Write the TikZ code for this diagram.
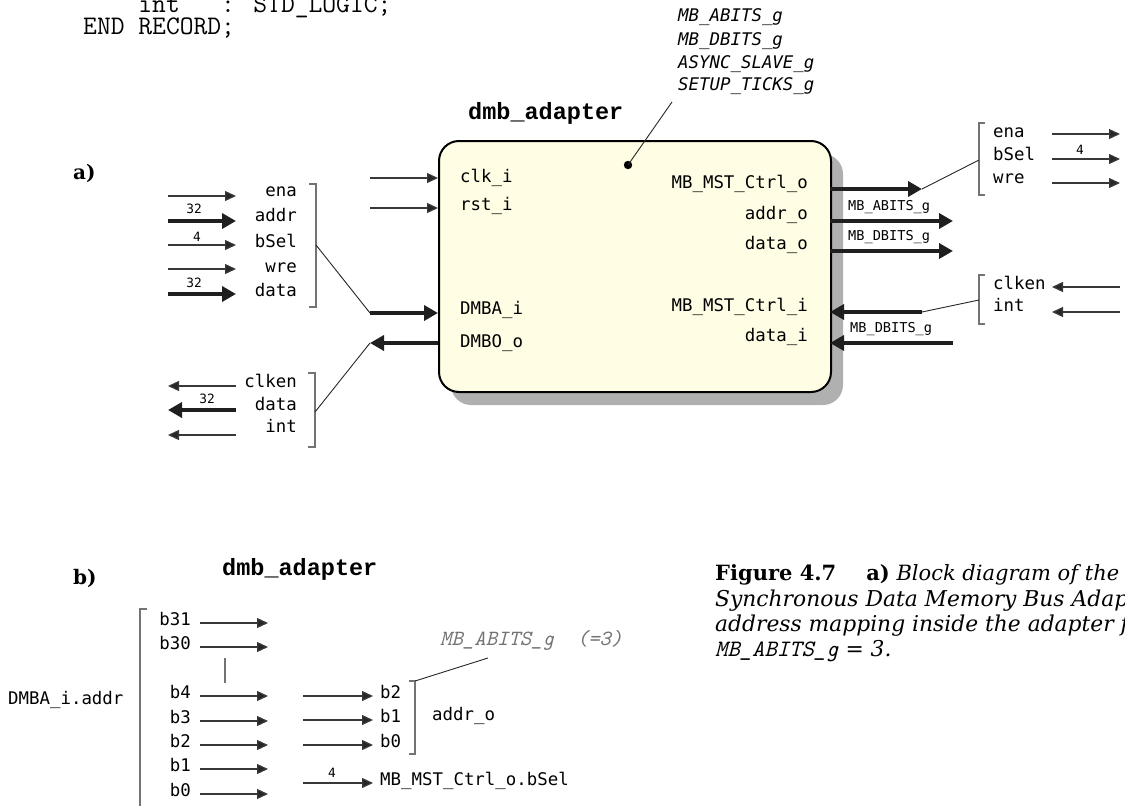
\documentclass[tikz,border=0pt]{standalone}
\usepackage{fontspec}
\setmainfont{DejaVu Serif}
\newfontfamily\mycour{Liberation Mono}
\newfontfamily\mycons{DejaVu Sans Mono}
\usetikzlibrary{arrows.meta}
\definecolor{blockfill}{HTML}{FFFDE4}
\definecolor{shadowgray}{HTML}{B0B0B0}
\newcommand\lblfont{\mycons\fontsize{17.4}{20}\selectfont}
\newcommand\smlfont{\mycons\fontsize{13.6}{16}\selectfont}
\newcommand\numfont{\mycons\fontsize{12.8}{15}\selectfont}
\newcommand\codefont{\ttfamily\fontsize{26.8}{28}\selectfont}
\newcommand\titlefont{\mycour\fontsize{23.5}{26}\selectfont\bfseries}
\newcommand\capfont{\fontsize{21}{25}\selectfont}
\newcommand\capifont{\fontsize{21.8}{25}\selectfont\itshape}
\begin{document}
\begin{tikzpicture}[x=1pt,y=-1pt,
  lbl/.style={font=\lblfont, inner sep=0pt},
  sml/.style={font=\smlfont, inner sep=0pt},
  num/.style={font=\numfont, inner sep=0pt},
  param/.style={font=\lblfont\itshape, inner sep=0pt, anchor=mid west},
  code/.style={font=\codefont, inner sep=0pt, anchor=base west},
  title/.style={font=\titlefont, inner sep=0pt, anchor=base west},
  part/.style={font=\fontsize{20}{22}\selectfont\bfseries, inner sep=0pt, anchor=base west},
  thinarr/.style={draw=black!78, line width=1.3pt, -{Triangle[length=11pt,width=10pt,fill=black!85]}},
  thickarr/.style={draw=black!88, line width=4.6pt, -{Triangle[length=14pt,width=15pt,fill=black!88]}},
  brk/.style={draw=black!55, line width=1.3pt},
  leader/.style={draw=black!85, line width=0.9pt},
]
\useasboundingbox (0,0) rectangle (1125,806);
\clip (0,0) rectangle (1125,806);

% ---------- VHDL record fragment ----------
\node[code] (rec1) at (83,12) {\phantom{EEEE}int\phantom{EEE}: STD\_LOGIC;};
\node[code] (rec2) at (83,34) {END RECORD;};

% ---------- a) block diagram ----------
\node[part] (parta) at (73,179) {a)};
\node[title] (titlea) at (468,119) {dmb\_adapter};

% generics
\node[param] (g1) at (678,19) {MB\_ABITS\_g};
\node[param] (g2) at (678,43) {MB\_DBITS\_g};
\node[param] (g3) at (678,66) {ASYNC\_SLAVE\_g};
\node[param] (g4) at (678,88) {SETUP\_TICKS\_g};
\coordinate (gfoot) at (672,102);

% block with shadow
\fill[shadowgray, rounded corners=20pt] (451,154) rectangle (843,405);
\node[draw=black, line width=2pt, fill=blockfill, rounded corners=20pt,
      minimum width=392pt, minimum height=251pt, inner sep=0pt, anchor=north west]
      (blk) at (438,140) {};
\fill (628,165) circle (4.2pt) coordinate (gdot);
\draw[leader] (gdot) -- (gfoot);

% port names inside the block
\node[lbl, anchor=mid west] (pclk)  at (460,180) {clk\_i};
\node[lbl, anchor=mid west] (prst)  at (460,208) {rst\_i};
\node[lbl, anchor=mid west] (pdmba) at (460,312) {DMBA\_i};
\node[lbl, anchor=mid west] (pdmbo) at (460,345) {DMBO\_o};
\node[lbl, anchor=mid east] (pctro) at (808,186) {MB\_MST\_Ctrl\_o};
\node[lbl, anchor=mid east] (paddr) at (808,217) {addr\_o};
\node[lbl, anchor=mid east] (pdato) at (808,247) {data\_o};
\node[lbl, anchor=mid east] (pctri) at (808,309) {MB\_MST\_Ctrl\_i};
\node[lbl, anchor=mid east] (pdati) at (808,339) {data\_i};

% left side port connectors
\coordinate (clkS) at (370,178);  \coordinate (clkE) at (438,178);
\coordinate (rstS) at (370,208);  \coordinate (rstE) at (438,208);
\coordinate (dmbaS) at (370,313); \coordinate (dmbaE) at (438,313);
\coordinate (dmboS) at (438,343); \coordinate (dmboE) at (370,343);
\draw[thinarr] (clkS) -- (clkE);
\draw[thinarr] (rstS) -- (rstE);
\draw[thickarr] (dmbaS) -- (dmbaE);
\draw[thickarr] (dmboS) -- (dmboE);

% right side port connectors
\coordinate (ctroS) at (830,189); \coordinate (ctroE) at (922,189);
\coordinate (addrS) at (830,221); \coordinate (addrE) at (953,221);
\coordinate (datoS) at (830,251); \coordinate (datoE) at (953,251);
\coordinate (ctriS) at (922,312); \coordinate (ctriE) at (830,312);
\coordinate (datiS) at (953,343); \coordinate (datiE) at (830,343);
\draw[thickarr] (ctroS) -- (ctroE);
\draw[thickarr] (addrS) -- (addrE);
\draw[thickarr] (datoS) -- (datoE);
\draw[thickarr] (ctriS) -- (ctriE);
\draw[thickarr] (datiS) -- (datiE);
\node[sml, anchor=mid west] (waddr) at (848,208) {MB\_ABITS\_g};
\node[sml, anchor=mid west] (wdato) at (848,238) {MB\_DBITS\_g};
\node[sml, anchor=mid west] (wdati) at (850,330) {MB\_DBITS\_g};

% DMBA_i record fields
\foreach \n/\y/\s in {ena/196/thinarr, addr/221/thickarr, bsel/245/thinarr, wre/269/thinarr, data/294/thickarr}{
  \coordinate (ia-\n-s) at (168,\y);
  \coordinate (ia-\n-e) at (236,\y);
  \draw[\s] (ia-\n-s) -- (ia-\n-e);
}
\node[lbl, anchor=mid east] (fa-ena)  at (297,194) {ena};
\node[lbl, anchor=mid east] (fa-addr) at (297,219) {addr};
\node[lbl, anchor=mid east] (fa-bsel) at (297,245) {bSel};
\node[lbl, anchor=mid east] (fa-wre)  at (297,270) {wre};
\node[lbl, anchor=mid east] (fa-data) at (297,294) {data};
\node[num] (wa1) at (194,209) {32};
\node[num] (wa2) at (197,237) {4};
\node[num] (wa3) at (194,283) {32};
\coordinate (bra1) at (309,184); \coordinate (bra2) at (316,184);
\coordinate (bra3) at (316,307); \coordinate (bra4) at (309,307);
\coordinate (bramid) at (316,245);
\draw[brk] (bra1) -- (bra2) -- (bra3) -- (bra4);
\draw[leader] (bramid) -- (dmbaS);

% DMBO_o record fields
\coordinate (io-clken-s) at (236,386); \coordinate (io-clken-e) at (168,386);
\coordinate (io-data-s)  at (236,410); \coordinate (io-data-e)  at (168,410);
\coordinate (io-int-s)   at (236,435); \coordinate (io-int-e)   at (168,435);
\draw[thinarr]  (io-clken-s) -- (io-clken-e);
\draw[thickarr] (io-data-s) -- (io-data-e);
\draw[thinarr]  (io-int-s) -- (io-int-e);
\node[lbl, anchor=mid east] (fo-clken) at (297,385) {clken};
\node[lbl, anchor=mid east] (fo-data)  at (297,408) {data};
\node[lbl, anchor=mid east] (fo-int)   at (297,430) {int};
\node[num] (wo1) at (207,399) {32};
\coordinate (bro1) at (308,373); \coordinate (bro2) at (315,373);
\coordinate (bro3) at (315,447); \coordinate (bro4) at (308,447);
\coordinate (bromid) at (315,412);
\draw[brk] (bro1) -- (bro2) -- (bro3) -- (bro4);
\draw[leader] (bromid) -- (dmboE);

% MB_MST_Ctrl_o record fields
\node[lbl, anchor=mid west] (fc-ena)  at (993,135) {ena};
\node[lbl, anchor=mid west] (fc-bsel) at (993,158) {bSel};
\node[lbl, anchor=mid west] (fc-wre)  at (993,181) {wre};
\foreach \n/\y in {ena/134, bsel/159, wre/183}{
  \coordinate (oc-\n-s) at (1052,\y);
  \coordinate (oc-\n-e) at (1120,\y);
  \draw[thinarr] (oc-\n-s) -- (oc-\n-e);
}
\node[num] (wc1) at (1080,150) {4};
\coordinate (brc1) at (985,123); \coordinate (brc2) at (979,123);
\coordinate (brc3) at (979,195); \coordinate (brc4) at (985,195);
\coordinate (brcmid) at (979,160);
\draw[brk] (brc1) -- (brc2) -- (brc3) -- (brc4);
\draw[leader] (ctroE) -- (brcmid);

% MB_MST_Ctrl_i record fields
\node[lbl, anchor=mid west] (fi-clken) at (993,287) {clken};
\node[lbl, anchor=mid west] (fi-int)   at (993,309) {int};
\coordinate (ic-clken-s) at (1120,287); \coordinate (ic-clken-e) at (1052,287);
\coordinate (ic-int-s)   at (1120,312); \coordinate (ic-int-e)   at (1052,312);
\draw[thinarr] (ic-clken-s) -- (ic-clken-e);
\draw[thinarr] (ic-int-s) -- (ic-int-e);
\coordinate (bri1) at (985,275); \coordinate (bri2) at (979,275);
\coordinate (bri3) at (979,324); \coordinate (bri4) at (985,324);
\coordinate (brimid) at (979,300);
\draw[brk] (bri1) -- (bri2) -- (bri3) -- (bri4);
\draw[leader] (ctriS) -- (brimid);

% ---------- b) address mapping ----------
\node[part] (partb) at (73,584) {b)};
\node[title] (titleb) at (222,575) {dmb\_adapter};
\node[lbl, anchor=mid west] (dmbaddr) at (8,702) {DMBA\_i.addr};
\coordinate (brb1) at (147,609); \coordinate (brb2) at (140,609);
\coordinate (brb3) at (140,812);
\draw[brk] (brb1) -- (brb2) -- (brb3);

\foreach \n/\t/\y in {b31/b31/623, b30/b30/647, b4/b4/696, b3/b3/721, b2/b2/745, b1/b1/769, b0/b0/794}{
  \node[lbl, anchor=mid east] (in-\n) at (191,\y) {\t};
  \coordinate (ib-\n-s) at (200,\y);
  \coordinate (ib-\n-e) at (268,\y);
  \draw[thinarr] (ib-\n-s) -- (ib-\n-e);
}
\coordinate (dots1) at (225,658); \coordinate (dots2) at (225,683);
\draw[brk] (dots1) -- (dots2);

\foreach \n/\y in {b2/696, b1/720, b0/745}{
  \node[lbl, anchor=mid west] (out-\n) at (380,\y) {\n};
  \coordinate (ob-\n-s) at (303,\y);
  \coordinate (ob-\n-e) at (373,\y);
  \draw[thinarr] (ob-\n-s) -- (ob-\n-e);
}
\coordinate (bro-a) at (409,681); \coordinate (bro-b) at (415,681);
\coordinate (bro-c) at (415,754); \coordinate (bro-d) at (409,754);
\draw[brk] (bro-a) -- (bro-b) -- (bro-c) -- (bro-d);
\node[lbl, anchor=mid west] (addro) at (432,718) {addr\_o};
\coordinate (abfoot) at (488,658);
\draw[leader] (bro-b) -- (abfoot);
\node[font=\ttfamily\fontsize{21.7}{24}\selectfont\itshape, text=black!55, inner sep=0pt, anchor=mid west]
  (abits) at (440,643) {MB\_ABITS\_g\phantom{xx}(=3)};

\coordinate (bsS) at (303,783); \coordinate (bsE) at (373,783);
\draw[thinarr] (bsS) -- (bsE);
\node[num] (wbs) at (332,773) {4};
\node[lbl, anchor=mid west] (bsel) at (380,783) {MB\_MST\_Ctrl\_o.bSel};

% ---------- caption ----------
\node[font=\capfont, inner sep=0pt, anchor=base west] (cap1) at (715,580)
  {\textbf{Figure 4.7}\hspace{30pt}\textbf{a)} \textit{Block diagram of the}};
\node[font=\capifont, inner sep=0pt, anchor=base west] (cap2) at (715,606)
  {Synchronous Data Memory Bus Adapter.};
\node[font=\capifont, inner sep=0pt, anchor=base west] (cap3) at (715,631)
  {address mapping inside the adapter for};
\node[font=\capifont, inner sep=0pt, anchor=base west] (cap4) at (715,656)
  {{\ttfamily\fontsize{23.5}{25}\selectfont MB\_ABITS\_g} = 3.};
\end{tikzpicture}
\end{document}
